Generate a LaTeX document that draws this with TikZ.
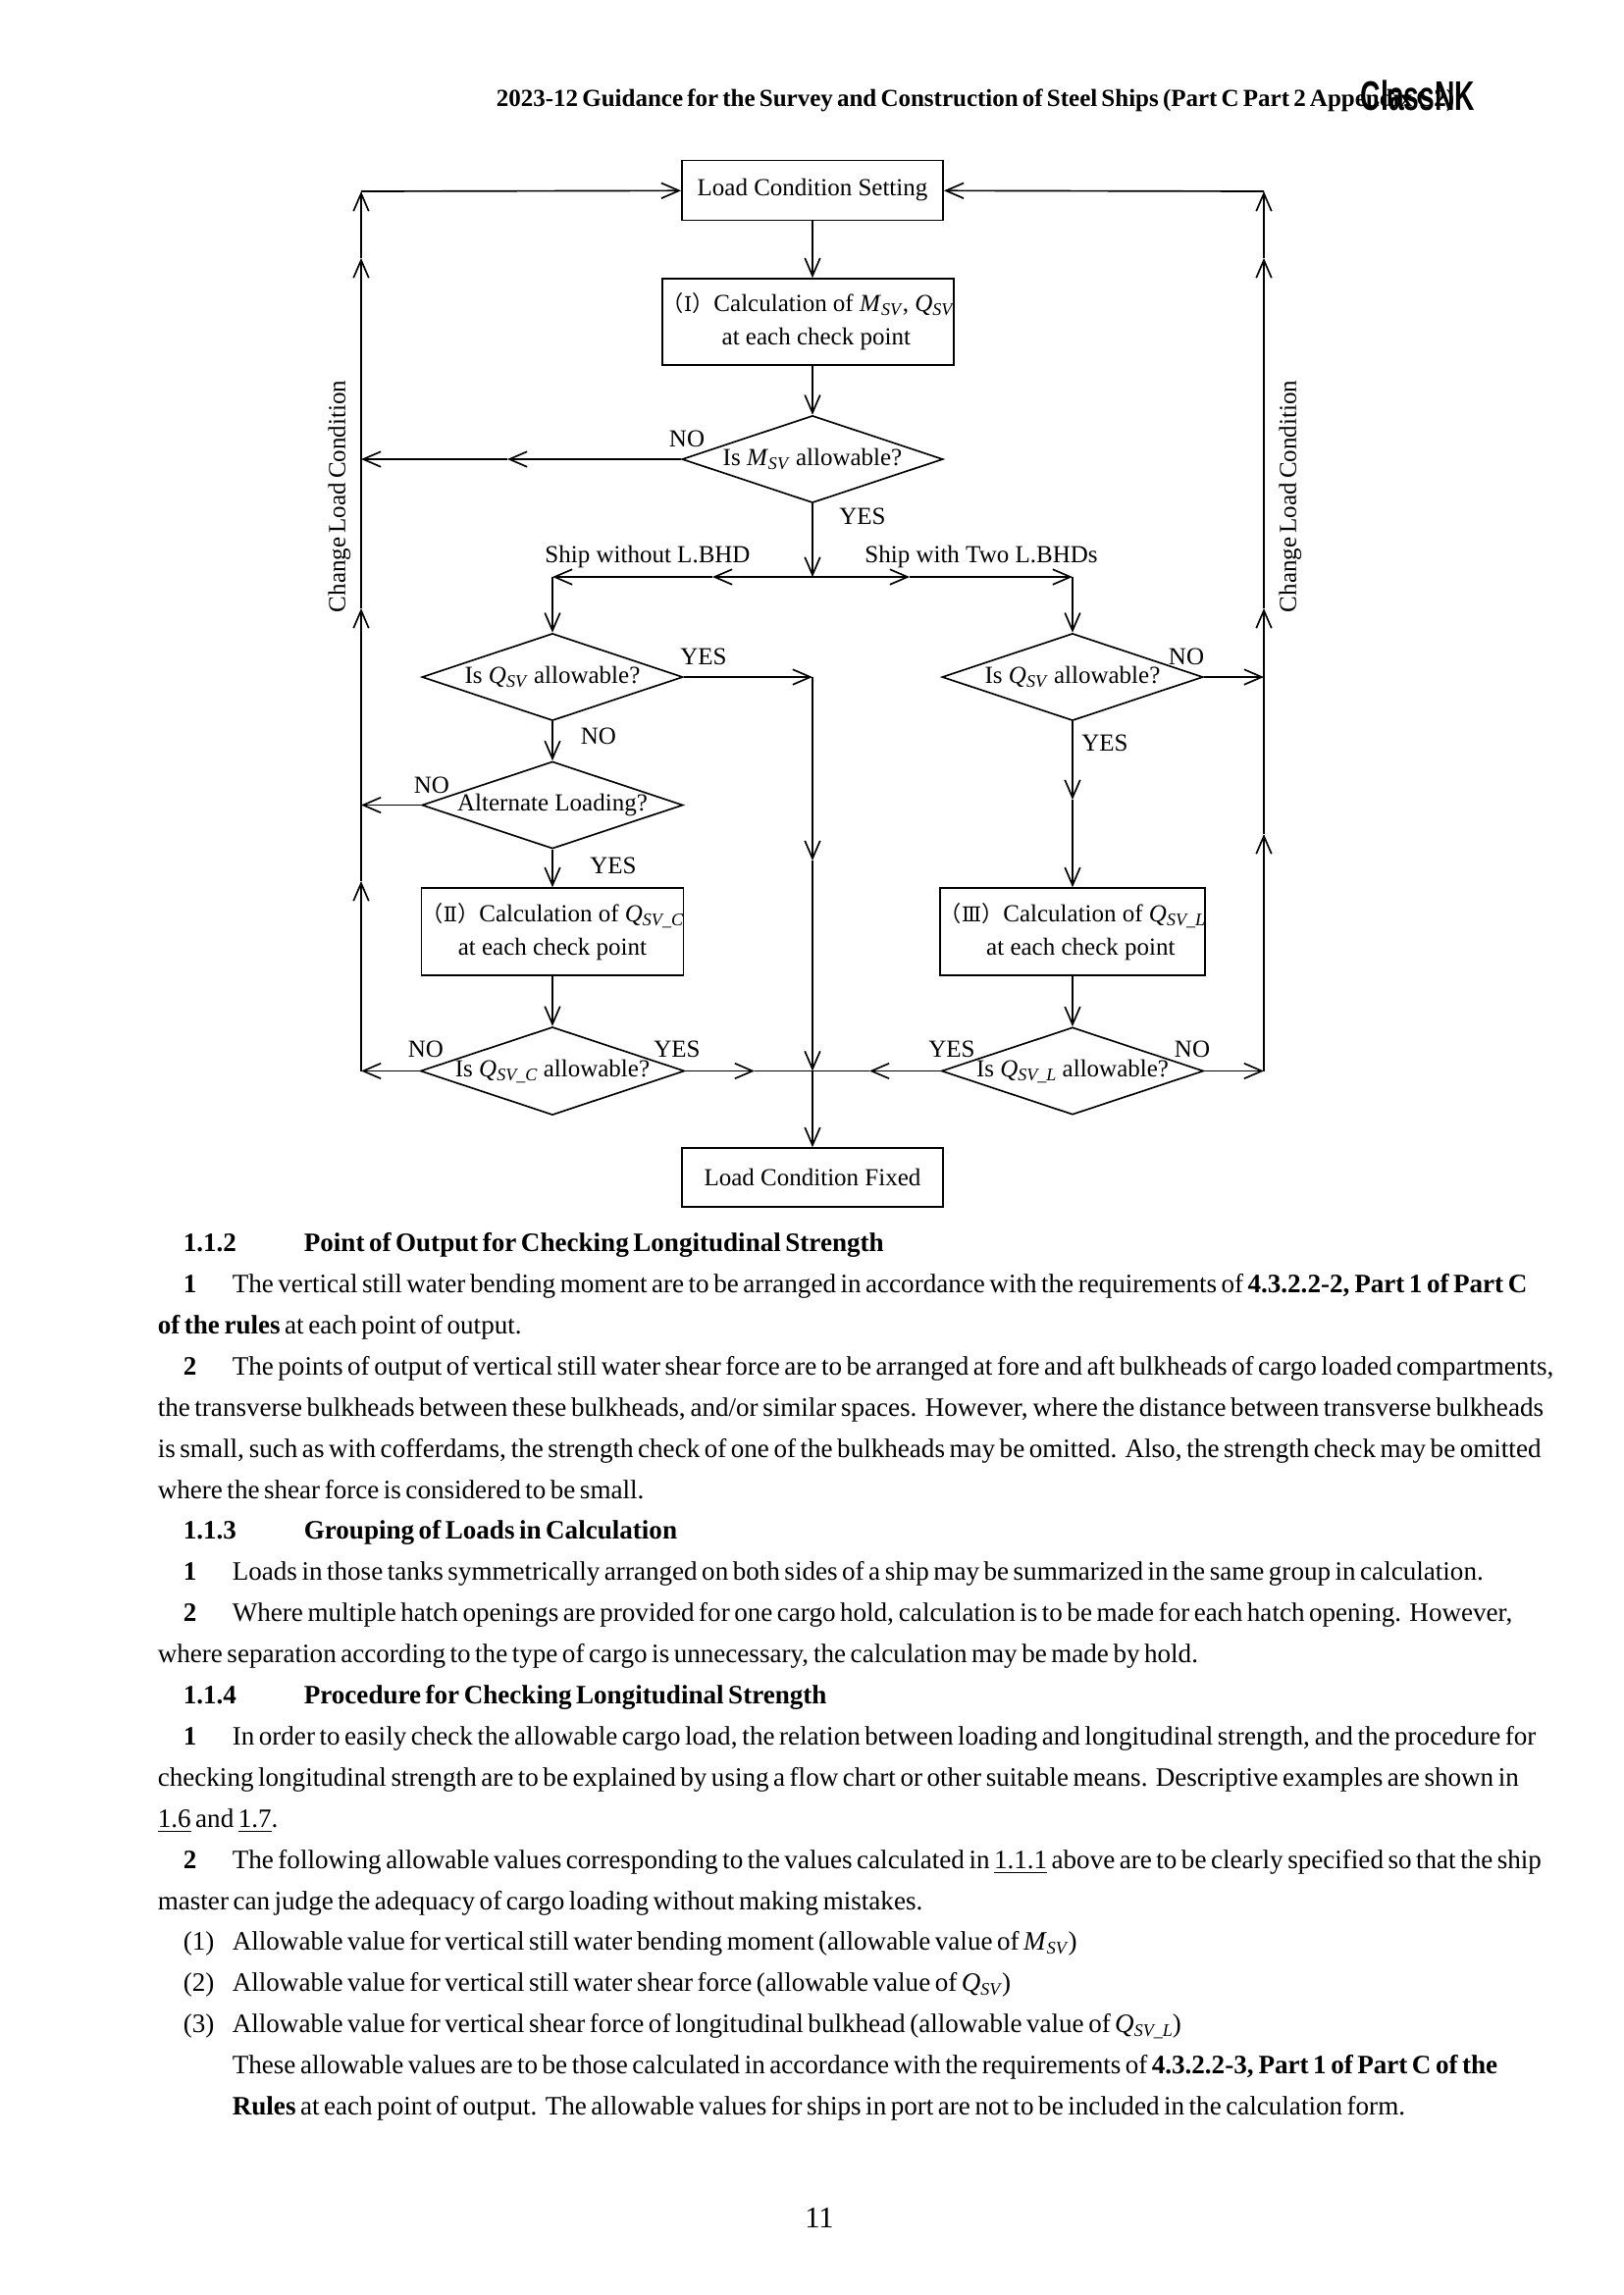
\documentclass[tikz,border=0pt]{standalone}
\usepackage{fontspec}
\setmainfont{Liberation Serif}
\newfontfamily\cjkf{Noto Sans CJK JP}
\newfontfamily\dvs{DejaVu Serif}
\newfontfamily\lsans{Liberation Sans}
\usetikzlibrary{shapes.geometric,arrows.meta}
\newcommand\sbs[2]{\textit{#1}\raisebox{-0.35ex}{\fontsize{6.5}{7}\selectfont\textit{#2}}}
\newcommand\rom[1]{{\cjkf\fontsize{8}{10}\selectfont （}{\dvs\fontsize{7.5}{10}\selectfont #1}{\cjkf\fontsize{8}{10}\selectfont ）}}
\newcommand\bline[5]{\pgfmathsetlengthmacro\linew{(#3-#2)*0.36pt}\node[bodyline] (#1) at (#2,#4) {\makebox[\linew][s]{#5}};}
\tikzset{
  every picture/.style={line width=0.6pt},
  flowbox/.style={draw,rectangle,inner sep=0pt,align=center,font=\fontsize{9}{12.2}\selectfont},
  decision/.style={draw,diamond,inner sep=0pt,shape aspect=3,minimum width=95.76pt,minimum height=32pt,font=\fontsize{9}{11}\selectfont},
  flowtext/.style={inner sep=0pt,font=\fontsize{9}{11}\selectfont},
  bodyline/.style={anchor=base west,inner sep=0pt,font=\fontsize{9.75}{12}\selectfont},
  arr/.style={-{Straight Barb[length=6.5pt,width=5.6pt]}},
  seg/.style={-}
}
\begin{document}
\begin{tikzpicture}[x=0.36pt,y=-0.36pt]
\useasboundingbox (0,0) rectangle (1654,2339);
\fill[white] (0,0) rectangle (1654,2339);

% header
\pgfmathsetlengthmacro\linew{859*0.36pt}
\node[anchor=base west,inner sep=0pt,font=\fontsize{9}{11}\selectfont\bfseries] (head) at (505,108) {\makebox[\linew][s]{2023-12 Guidance for the Survey and Construction of Steel Ships (Part C Part 2 Appendix C2)}};
\node[inner sep=0pt] (logo) at (1445,97) {\resizebox{41.8pt}{11pt}{\lsans\bfseries ClassNK}};

% boxes
\node[flowbox,minimum width=95.8pt,minimum height=22pt] (setting) at (828,194) {Load Condition Setting};
\node[flowbox,minimum width=99pt,minimum height=31.7pt] (calc1) at (823.5,328) {\rom{Ⅰ}Calculation of \sbs{M}{SV}, \sbs{Q}{SV}\\\hspace*{6pt}at each check point};
\node[decision] (dm) at (828,468) {Is \sbs{M}{SV} allowable?};
\node[decision] (dql) at (563,690) {Is \sbs{Q}{SV} allowable?};
\node[decision] (dqr) at (1093,690) {Is \sbs{Q}{SV} allowable?};
\node[decision] (alt) at (563,820.5) {Alternate Loading?};
\node[flowbox,minimum width=96.1pt,minimum height=32pt] (calc2) at (563,949.5) {\rom{Ⅱ}Calculation of \sbs{Q}{SV\_C}\\at each check point};
\node[flowbox,minimum width=96.1pt,minimum height=32pt] (calc3) at (1093,949.5) {\rom{Ⅲ}Calculation of \sbs{Q}{SV\_L}\\\hspace*{6pt}at each check point};
\node[decision] (dqc) at (563,1091.5) {Is \sbs{Q}{SV\_C} allowable?};
\node[decision] (dql2) at (1093,1091.5) {Is \sbs{Q}{SV\_L} allowable?};
\node[flowbox,minimum width=95.8pt,minimum height=21.6pt] (fixed) at (828,1200) {Load Condition Fixed};

% junctions
\coordinate (railLtop) at (368,195);
\coordinate (railLbot) at (368,1091.5);
\coordinate (railRtop) at (1288,195);
\coordinate (railRbot) at (1288,1091.5);
\coordinate (railLa) at (368,898);
\coordinate (railLb) at (368,620);
\coordinate (railLc) at (368,263);
\coordinate (railRa) at (1288,850);
\coordinate (railRb) at (1288,620);
\coordinate (railRc) at (1288,263);
\coordinate (jbr) at (828,588);
\coordinate (brLm) at (726,588);
\coordinate (brL) at (563,588);
\coordinate (brRm) at (927,588);
\coordinate (brR) at (1093,588);
\coordinate (noM) at (517,468);
\coordinate (noMend) at (368,468);
\coordinate (cTop) at (828,690);
\coordinate (cMid) at (828,877);
\coordinate (cJoin) at (828,1091.5);
\coordinate (yesCm) at (769,1091.5);
\coordinate (yesLm) at (886,1091.5);
\coordinate (yesRm) at (1093,815);
\coordinate (altEnd) at (368,820.5);
\coordinate (noQr) at (1288,690);

% main flow
\draw[arr] (setting) -- (calc1.north -| setting);
\draw[arr] (calc1.south -| setting) -- (dm);
\draw[arr] (dm) -- (jbr);
\draw[arr] (jbr) -- (brLm);
\draw[arr] (brLm) -- (brL);
\draw[arr] (jbr) -- (brRm);
\draw[arr] (brRm) -- (brR);
\draw[arr] (brL) -- (dql);
\draw[arr] (brR) -- (dqr);
\draw[arr] (dm) -- (noM);
\draw[arr] (noM) -- (noMend);
\draw[arr] (dql) -- (cTop);
\draw[arr] (dqr) -- (noQr);
\draw[arr] (cTop) -- (cMid);
\draw[arr] (cMid) -- (cJoin);
\draw[arr] (cJoin) -- (fixed);
\draw[arr] (dql) -- (alt);
\draw[arr] (alt) -- (altEnd);
\draw[arr] (alt) -- (calc2);
\draw[arr] (calc2) -- (dqc);
\draw[arr] (dqc) -- (railLbot);
\draw[arr] (dqc) -- (yesCm);
\draw[seg] (yesCm) -- (cJoin);
\draw[arr] (dql2) -- (yesLm);
\draw[seg] (yesLm) -- (cJoin);
\draw[arr] (dqr) -- (yesRm);
\draw[arr] (yesRm) -- (calc3);
\draw[arr] (calc3) -- (dql2);
\draw[arr] (dql2) -- (railRbot);

% rails
\draw[arr] (railLbot) -- (railLa);
\draw[arr] (railLa) -- (railLb);
\draw[arr] (railLb) -- (railLc);
\draw[arr] (railLc) -- (railLtop);
\draw[arr] (railLtop) -- (setting);
\draw[arr] (railRbot) -- (railRa);
\draw[arr] (railRa) -- (railRb);
\draw[arr] (railRb) -- (railRc);
\draw[arr] (railRc) -- (railRtop);
\draw[arr] (railRtop) -- (setting);

% connector labels
\node[flowtext] (l1) at (700,447) {NO};
\node[flowtext] (l2) at (879,526) {YES};
\node[flowtext] (l3) at (660,567) {Ship without L.BHD};
\node[flowtext] (l4) at (1000,567) {Ship with Two L.BHDs};
\node[flowtext] (l5) at (717,669) {YES};
\node[flowtext] (l6) at (1209,669) {NO};
\node[flowtext] (l7) at (610,750) {NO};
\node[flowtext] (l8) at (1126,757) {YES};
\node[flowtext] (l9) at (440,800) {NO};
\node[flowtext] (l10) at (625,882) {YES};
\node[flowtext] (l11) at (434,1069) {NO};
\node[flowtext] (l12) at (690,1069) {YES};
\node[flowtext] (l13) at (970,1069) {YES};
\node[flowtext] (l14) at (1215,1069) {NO};
\pgfmathsetlengthmacro\linew{204*0.36pt}
\node[flowtext,rotate=90] (chL) at (346,522) {\makebox[\linew][s]{Change Load Condition}};
\node[flowtext,rotate=90] (chR) at (1315,522) {\makebox[\linew][s]{Change Load Condition}};

% body text
\newcommand\num[3]{\node[bodyline] (#1) at (186,#2) {#3};}
\node[bodyline,font=\fontsize{9.75}{12}\selectfont\bfseries] (n112) at (186,1275) {1.1.2};
\bline{t112}{309}{871}{1275}{\textbf{Point of Output for Checking Longitudinal Strength}}
\num{n1}{1317}{\textbf{1}}
\bline{t1}{236}{1509}{1317}{The vertical still water bending moment are to be arranged in accordance with the requirements of \textbf{4.3.2.2-2, Part 1 of Part C}}
\bline{t2}{160}{517}{1359}{\textbf{of the rules} at each point of output.}
\num{n2}{1401}{\textbf{2}}
\bline{t3}{236}{1506}{1401}{The points of output of vertical still water shear force are to be arranged at fore and aft bulkheads of cargo loaded compartments,}
\bline{t4}{160}{1506}{1443}{the transverse bulkheads between these bulkheads, and/or similar spaces. However, where the distance between transverse bulkheads}
\bline{t5}{160}{1505}{1485}{is small, such as with cofferdams, the strength check of one of the bulkheads may be omitted. Also, the strength check may be omitted}
\bline{t6}{160}{636}{1527}{where the shear force is considered to be small.}
\node[bodyline,font=\fontsize{9.75}{12}\selectfont\bfseries] (n113) at (186,1568) {1.1.3};
\bline{t113}{309}{670}{1568}{\textbf{Grouping of Loads in Calculation}}
\num{n3}{1610}{\textbf{1}}
\bline{t7}{236}{1455}{1610}{Loads in those tanks symmetrically arranged on both sides of a ship may be summarized in the same group in calculation.}
\num{n4}{1652}{\textbf{2}}
\bline{t8}{236}{1508}{1652}{Where multiple hatch openings are provided for one cargo hold, calculation is to be made for each hatch opening. However,}
\bline{t9}{160}{1177}{1694}{where separation according to the type of cargo is unnecessary, the calculation may be made by hold.}
\node[bodyline,font=\fontsize{9.75}{12}\selectfont\bfseries] (n114) at (186,1736) {1.1.4};
\bline{t114}{309}{813}{1736}{\textbf{Procedure for Checking Longitudinal Strength}}
\num{n5}{1778}{\textbf{1}}
\bline{t10}{236}{1509}{1778}{In order to easily check the allowable cargo load, the relation between loading and longitudinal strength, and the procedure for}
\bline{t11}{160}{1509}{1820}{checking longitudinal strength are to be explained by using a flow chart or other suitable means. Descriptive examples are shown in}
\bline{t12}{160}{276}{1862}{\underline{1.6} and \underline{1.7}.}
\num{n6}{1904}{\textbf{2}}
\bline{t13}{236}{1509}{1904}{The following allowable values corresponding to the values calculated in \underline{1.1.1} above are to be clearly specified so that the ship}
\bline{t14}{160}{901}{1946}{master can judge the adequacy of cargo loading without making mistakes.}
\num{n7}{1987}{(1)}
\bline{t15}{236}{1064}{1987}{Allowable value for vertical still water bending moment (allowable value of \sbs{M}{SV})}
\num{n8}{2029}{(2)}
\bline{t16}{236}{1004}{2029}{Allowable value for vertical still water shear force (allowable value of \sbs{Q}{SV})}
\num{n9}{2071}{(3)}
\bline{t17}{236}{1173}{2071}{Allowable value for vertical shear force of longitudinal bulkhead (allowable value of \sbs{Q}{SV\_L})}
\bline{t18}{236}{1509}{2113}{These allowable values are to be those calculated in accordance with the requirements of \textbf{4.3.2.2-3, Part 1 of Part C of the}}
\bline{t19}{236}{1386}{2155}{\textbf{Rules} at each point of output. The allowable values for ships in port are not to be included in the calculation form.}
\node[inner sep=0pt,font=\fontsize{11}{13}\selectfont] (page) at (835,2260) {11};
\end{tikzpicture}
\end{document}
